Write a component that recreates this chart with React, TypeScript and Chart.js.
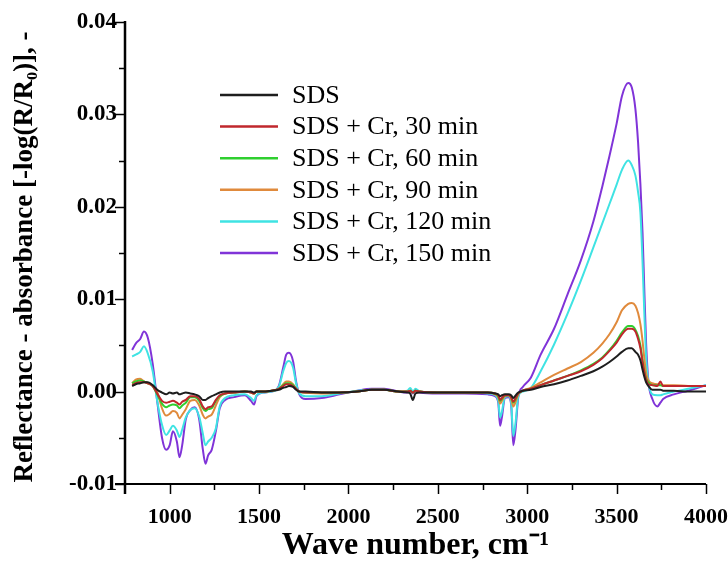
import { useEffect, useRef } from "react";
import { Chart, registerables } from "chart.js";

Chart.register(...registerables);

// Wave numbers (cm-1) at which the spectra were read
const waveNumbers = [
  790, 810, 835, 856, 878, 905, 930, 957, 980, 1000,
  1018, 1040, 1055, 1070, 1090, 1115, 1140, 1165, 1185, 1200,
  1215, 1235, 1258, 1280, 1310, 1360, 1420, 1455, 1472, 1485,
  1520, 1570, 1610, 1635, 1652, 1667, 1690, 1707, 1725, 1760,
  1850, 1950, 2050, 2130, 2200, 2280, 2330, 2345, 2360, 2375,
  2400, 2500, 2650, 2780, 2820, 2838, 2848, 2858, 2875, 2895,
  2910, 2922, 2935, 2950, 2975, 3020, 3075, 3150, 3225, 3300,
  3370, 3420, 3460, 3500, 3530, 3565, 3585, 3605, 3620, 3633,
  3645, 3655, 3665, 3678, 3700, 3728, 3745, 3760, 3820, 3900,
  4000,
];

const sds = [
  0.0006, 0.0008, 0.0009, 0.0010, 0.0010, 0.0007, 0.0002, -0.0001, -0.0003, -0.0001,
  -0.0002, -0.0001, -0.0003, -0.0002, -0.0001, -0.0002, -0.0003, -0.0005, -0.0009, -0.0009,
  -0.0007, -0.0005, -0.0003, -0.0001, 0.0000, 0.0000, 0.0000, 0.0000, -0.0001, 0.0000,
  0.0000, 0.0001, 0.0002, 0.0004, 0.0005, 0.0006, 0.0005, 0.0002, 0.0000, 0.0000,
  -0.0001, -0.0001, 0.0000, 0.0002, 0.0002, 0.0000, -0.0001, -0.0002, -0.0009, -0.0002,
  -0.0001, -0.0001, -0.0001, -0.0001, -0.0002, -0.0003, -0.0005, -0.0004, -0.0003, -0.0003,
  -0.0004, -0.0007, -0.0004, -0.0001, 0.0001, 0.0002, 0.0005, 0.0008, 0.0012, 0.0017,
  0.0022, 0.0027, 0.0032, 0.0038, 0.0043, 0.0047, 0.0047, 0.0043, 0.0040, 0.0034,
  0.0024, 0.0016, 0.0010, 0.0006, 0.0002, 0.0002, 0.0002, 0.0001, 0.0001, 0.0000,
  0.0000,
];

const cr30 = [
  0.0007, 0.0009, 0.0010, 0.0010, 0.0009, 0.0006, -0.0002, -0.0010, -0.0012, -0.0011,
  -0.0010, -0.0012, -0.0014, -0.0011, -0.0009, -0.0005, -0.0005, -0.0008, -0.0016, -0.0019,
  -0.0017, -0.0016, -0.0009, -0.0004, -0.0002, -0.0001, 0.0000, -0.0001, -0.0002, 0.0000,
  0.0000, 0.0001, 0.0003, 0.0006, 0.0008, 0.0008, 0.0006, 0.0003, 0.0000, -0.0001,
  -0.0001, -0.0001, 0.0000, 0.0002, 0.0002, 0.0000, 0.0000, 0.0001, -0.0001, 0.0001,
  0.0000, -0.0001, -0.0001, -0.0001, -0.0002, -0.0004, -0.0009, -0.0007, -0.0004, -0.0004,
  -0.0006, -0.0011, -0.0007, -0.0002, 0.0001, 0.0003, 0.0007, 0.0012, 0.0017, 0.0022,
  0.0029, 0.0036, 0.0044, 0.0053, 0.0062, 0.0068, 0.0068, 0.0065, 0.0057, 0.0047,
  0.0032, 0.0021, 0.0013, 0.0008, 0.0007, 0.0006, 0.0011, 0.0006, 0.0006, 0.0006,
  0.0006,
];

const cr60 = [
  0.0009, 0.0011, 0.0012, 0.0011, 0.0009, 0.0006, -0.0003, -0.0013, -0.0017, -0.0015,
  -0.0014, -0.0015, -0.0018, -0.0015, -0.0012, -0.0006, -0.0006, -0.0010, -0.0018, -0.0021,
  -0.0019, -0.0018, -0.0010, -0.0005, -0.0002, -0.0001, 0.0000, -0.0001, -0.0002, 0.0000,
  0.0000, 0.0001, 0.0003, 0.0007, 0.0009, 0.0009, 0.0007, 0.0003, 0.0000, -0.0001,
  -0.0001, -0.0001, 0.0000, 0.0002, 0.0002, 0.0000, 0.0000, 0.0001, -0.0001, 0.0001,
  0.0000, -0.0001, -0.0001, -0.0001, -0.0002, -0.0005, -0.0010, -0.0008, -0.0004, -0.0004,
  -0.0006, -0.0012, -0.0008, -0.0002, 0.0001, 0.0003, 0.0007, 0.0012, 0.0017, 0.0023,
  0.0030, 0.0037, 0.0045, 0.0055, 0.0064, 0.0071, 0.0071, 0.0067, 0.0060, 0.0050,
  0.0034, 0.0022, 0.0014, 0.0010, 0.0007, 0.0007, 0.0007, 0.0006, 0.0006, 0.0006,
  0.0006,
];

const cr90 = [
  0.0009, 0.0013, 0.0014, 0.0011, 0.0009, 0.0006, 0.0000, -0.0018, -0.0026, -0.0024,
  -0.0021, -0.0023, -0.0029, -0.0025, -0.0019, -0.0010, -0.0009, -0.0015, -0.0025, -0.0029,
  -0.0027, -0.0025, -0.0015, -0.0006, -0.0002, -0.0001, 0.0000, -0.0001, -0.0002, 0.0000,
  0.0000, 0.0001, 0.0003, 0.0008, 0.0011, 0.0011, 0.0008, 0.0003, 0.0000, -0.0001,
  -0.0002, -0.0001, 0.0000, 0.0002, 0.0002, 0.0000, 0.0000, 0.0001, -0.0001, 0.0001,
  0.0000, -0.0001, -0.0001, -0.0001, -0.0003, -0.0006, -0.0013, -0.0010, -0.0005, -0.0004,
  -0.0008, -0.0016, -0.0011, -0.0003, 0.0001, 0.0004, 0.0010, 0.0018, 0.0025, 0.0032,
  0.0042, 0.0052, 0.0062, 0.0075, 0.0088, 0.0095, 0.0096, 0.0093, 0.0085, 0.0073,
  0.0055, 0.0036, 0.0020, 0.0012, 0.0009, 0.0008, 0.0008, 0.0007, 0.0007, 0.0006,
  0.0006,
];

const cr120 = [
  0.0038, 0.0040, 0.0043, 0.0049, 0.0041, 0.0022, -0.0010, -0.0036, -0.0047, -0.0042,
  -0.0037, -0.0042, -0.0049, -0.0041, -0.0028, -0.0020, -0.0018, -0.0027, -0.0045, -0.0058,
  -0.0054, -0.0050, -0.0040, -0.0016, -0.0007, -0.0004, -0.0003, -0.0007, -0.0010, -0.0004,
  -0.0001, 0.0000, 0.0005, 0.0022, 0.0031, 0.0033, 0.0026, 0.0009, -0.0002, -0.0005,
  -0.0005, -0.0002, 0.0001, 0.0002, 0.0002, 0.0000, 0.0001, 0.0004, 0.0000, 0.0003,
  0.0000, -0.0001, -0.0001, -0.0002, -0.0004, -0.0010, -0.0028, -0.0022, -0.0006, -0.0005,
  -0.0012, -0.0048, -0.0033, -0.0005, 0.0000, 0.0004, 0.0022, 0.0051, 0.0084, 0.0120,
  0.0156, 0.0182, 0.0203, 0.0224, 0.0240, 0.0250, 0.0245, 0.0234, 0.0216, 0.0194,
  0.0140, 0.0085, 0.0038, 0.0010, -0.0003, -0.0004, -0.0004, -0.0003, 0.0000, 0.0003,
  0.0007,
];

const cr150 = [
  0.0045, 0.0052, 0.0057, 0.0065, 0.0058, 0.0030, -0.0010, -0.0050, -0.0063, -0.0058,
  -0.0043, -0.0054, -0.0071, -0.0058, -0.0030, -0.0020, -0.0017, -0.0030, -0.0062, -0.0078,
  -0.0069, -0.0063, -0.0043, -0.0018, -0.0009, -0.0006, -0.0004, -0.0010, -0.0014, -0.0005,
  -0.0001, 0.0000, 0.0006, 0.0026, 0.0040, 0.0042, 0.0033, 0.0011, -0.0003, -0.0008,
  -0.0007, -0.0003, 0.0001, 0.0003, 0.0003, 0.0000, -0.0001, 0.0001, -0.0002, 0.0001,
  -0.0001, -0.0002, -0.0002, -0.0003, -0.0005, -0.0012, -0.0037, -0.0028, -0.0007, -0.0006,
  -0.0014, -0.0058, -0.0040, -0.0006, 0.0005, 0.0015, 0.0040, 0.0068, 0.0105, 0.0142,
  0.0184, 0.0222, 0.0255, 0.0290, 0.0320, 0.0334, 0.0329, 0.0306, 0.0270, 0.0225,
  0.0172, 0.0110, 0.0052, 0.0011, -0.0008, -0.0016, -0.0012, -0.0008, -0.0003, 0.0001,
  0.0007,
];

const seriesLabels = [
  "SDS",
  "SDS + Cr, 30 min",
  "SDS + Cr, 60 min",
  "SDS + Cr, 90 min",
  "SDS + Cr, 120 min",
  "SDS + Cr, 150 min",
];
const seriesValues = [sds, cr30, cr60, cr90, cr120, cr150];
const seriesColors = ["#1e1e1e", "#c0272d", "#2fcf2f", "#e08a3c", "#3fe3e3", "#8034d8"];

const xTickValues = [1000, 1500, 2000, 2500, 3000, 3500, 4000];
const xMinorTickValues = [1250, 1750, 2250, 2750, 3250, 3750];
const yTickValues = [-0.01, 0, 0.01, 0.02, 0.03, 0.04];
const yMinorTickValues = [-0.005, 0.005, 0.015, 0.025, 0.035];

const xTitle = "Wave number, cm\u207B\u00B9";
const yTitle = "Reflectance - absorbance [-log(R/R\u2080)], -";

const SERIF = '"Liberation Serif", "Times New Roman", serif';

const axesAndLegend = {
  id: "axesAndLegend",
  afterDraw(chart: any) {
    const { ctx, chartArea, scales } = chart;
    const xs = scales.x;
    const ys = scales.y;
    const L = chartArea.left;
    const B = chartArea.bottom;
    ctx.save();
    ctx.strokeStyle = "#000";
    ctx.lineCap = "butt";
    // axis lines
    ctx.lineWidth = 2.5;
    ctx.beginPath();
    ctx.moveTo(L, chartArea.top - 1);
    ctx.lineTo(L, B + 10);
    ctx.stroke();
    ctx.lineWidth = 2;
    ctx.beginPath();
    ctx.moveTo(L - 10, B);
    ctx.lineTo(chartArea.right, B);
    ctx.stroke();
    // y ticks
    ctx.lineWidth = 1.5;
    for (const v of yTickValues) {
      const p = Math.round(ys.getPixelForValue(v)) + 0.5;
      ctx.beginPath();
      ctx.moveTo(L - 10, p);
      ctx.lineTo(L, p);
      ctx.stroke();
    }
    for (const v of yMinorTickValues) {
      const p = Math.round(ys.getPixelForValue(v)) + 0.5;
      ctx.beginPath();
      ctx.moveTo(L - 6, p);
      ctx.lineTo(L, p);
      ctx.stroke();
    }
    // x ticks
    for (const v of xTickValues) {
      const p = Math.round(xs.getPixelForValue(v)) + 0.5;
      ctx.beginPath();
      ctx.moveTo(p, B);
      ctx.lineTo(p, B + 10);
      ctx.stroke();
    }
    for (const v of xMinorTickValues) {
      const p = Math.round(xs.getPixelForValue(v)) + 0.5;
      ctx.beginPath();
      ctx.moveTo(p, B);
      ctx.lineTo(p, B + 6);
      ctx.stroke();
    }
    // y axis title
    ctx.save();
    ctx.translate(25, (chartArea.top + B) / 2 + 4);
    ctx.rotate(-Math.PI / 2);
    ctx.font = `bold 27px ${SERIF}`;
    ctx.fillStyle = "#000";
    ctx.textAlign = "center";
    ctx.textBaseline = "middle";
    ctx.fillText(yTitle, 0, 0);
    ctx.restore();
    // legend
    const lx = L + 95;
    const ly = chartArea.top + 73;
    ctx.font = `26px ${SERIF}`;
    ctx.textBaseline = "middle";
    ctx.textAlign = "left";
    chart.data.datasets.forEach((ds: any, i: number) => {
      const yy = ly + i * 31.6;
      ctx.strokeStyle = ds.borderColor;
      ctx.lineWidth = 2.5;
      ctx.beginPath();
      ctx.moveTo(lx, yy);
      ctx.lineTo(lx + 58, yy);
      ctx.stroke();
      ctx.fillStyle = "#000";
      ctx.fillText(ds.label, lx + 72, yy + 1);
    });
    ctx.restore();
  },
};

export default function App() {
  const ref = useRef<HTMLCanvasElement>(null);
  useEffect(() => {
    const canvas = ref.current;
    if (!canvas) return;
    const chart = new Chart(canvas, {
      type: "line",
      data: {
        datasets: seriesLabels.map((label, k) => ({
          label,
          data: waveNumbers.map((w, i) => ({ x: w, y: seriesValues[k][i] })),
          borderColor: seriesColors[k],
          backgroundColor: seriesColors[k],
          borderWidth: 2,
          pointRadius: 0,
          fill: false,
          cubicInterpolationMode: "monotone",
        })),
      },
      options: {
        responsive: false,
        animation: false,
        layout: { padding: { top: 22, right: 22, left: 0, bottom: 0 } },
        plugins: { legend: { display: false }, tooltip: { enabled: false } },
        scales: {
          x: {
            type: "linear",
            min: 750,
            max: 4000,
            grid: { display: false, drawTicks: false },
            border: { display: false },
            ticks: {
              color: "#000",
              padding: 20,
              maxRotation: 0,
              font: { family: SERIF, size: 22, weight: "bold" },
              callback: (v: any) => String(v),
            },
            title: {
              display: true,
              text: xTitle,
              color: "#000",
              padding: { top: 0, bottom: 0 },
              font: { family: SERIF, size: 32, weight: "bold" },
            },
            afterBuildTicks: (s: any) => {
              s.ticks = xTickValues.map((v) => ({ value: v }));
            },
            afterFit: (s: any) => {
              s.height = 81;
              s.paddingLeft = 0;
              s.paddingRight = 0;
            },
          },
          y: {
            type: "linear",
            min: -0.01,
            max: 0.04,
            grid: { display: false, drawTicks: false },
            border: { display: false },
            ticks: {
              color: "#000",
              padding: 8,
              font: { family: SERIF, size: 23, weight: "bold" },
              callback: (v: any) => Number(v).toFixed(2),
            },
            title: { display: false },
            afterBuildTicks: (s: any) => {
              s.ticks = yTickValues.map((v) => ({ value: v }));
            },
            afterFit: (s: any) => {
              s.width = 125;
              s.paddingTop = 0;
              s.paddingBottom = 0;
            },
          },
        },
      },
      plugins: [axesAndLegend],
    });
    return () => chart.destroy();
  }, []);
  return (
    <div style={{ position: "fixed", left: 0, top: 0, width: 728, height: 565, background: "#fff" }}>
      <canvas ref={ref} width={728} height={565} style={{ width: "728px", height: "565px" }} />
    </div>
  );
}
